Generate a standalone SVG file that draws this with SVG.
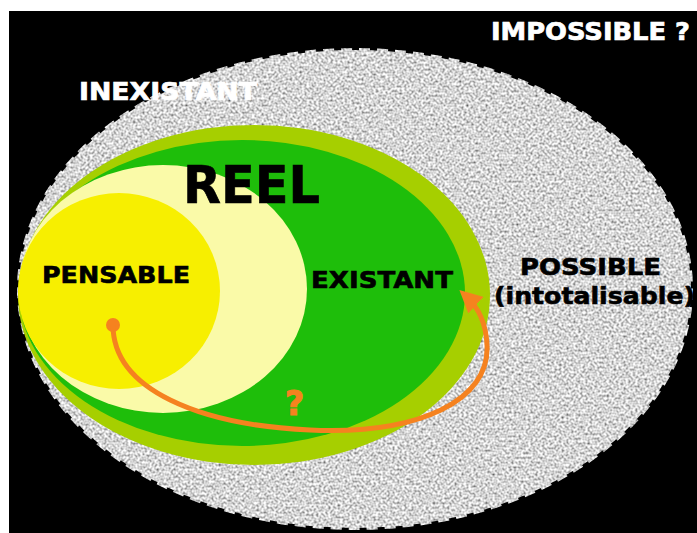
<svg xmlns="http://www.w3.org/2000/svg" width="697" height="533" viewBox="0 0 697 533">
<style>
.t{font-family:"DejaVu Sans","Verdana",sans-serif;font-weight:bold}
.w{fill:#ffffff;stroke:#ffffff;stroke-width:0.7}
.k{fill:#000000;stroke:#000000;stroke-width:0.6}
</style>
<defs>
<filter id="noise" x="-5%" y="-5%" width="110%" height="110%">
<feTurbulence type="fractalNoise" baseFrequency="0.42" numOctaves="1" seed="7" result="t"/>
<feColorMatrix in="t" type="matrix" values="1.6 0 0 0 -0.13  1.6 0 0 0 -0.13  1.6 0 0 0 -0.13  0 0 0 0 1" result="g"/>
<feGaussianBlur in="g" stdDeviation="0.35" result="b"/>
<feComposite in="b" in2="SourceAlpha" operator="in"/>
</filter>
<marker id="arr" viewBox="0 0 10 10" refX="6" refY="5" markerWidth="4.5" markerHeight="4.5" orient="auto" markerUnits="strokeWidth">
<path d="M0,0 L10,5 L0,10 z" fill="#f5821f"/>
</marker>
</defs>
<rect x="0" y="0" width="697" height="533" fill="#ffffff"/>
<rect x="9" y="11" width="688" height="522" fill="#000000"/>
<g id="possible">
<g filter="url(#noise)">
<ellipse cx="355" cy="289" rx="336" ry="239" fill="#000" stroke="#000" stroke-width="4" stroke-dasharray="11 7"/>
</g>
</g>
<g id="reel">
<ellipse cx="254" cy="295" rx="236" ry="170" fill="#a6cf00"/>
</g>
<g id="existant">
<ellipse cx="242" cy="293" rx="223" ry="153" fill="#1ebe0a"/>
</g>
<g id="pensable-zone">
<ellipse cx="163" cy="289" rx="144" ry="124" fill="#fafaa8"/>
</g>
<g id="pensable">
<ellipse cx="119" cy="291" rx="101" ry="98" fill="#f7ef00"/>
</g>
<g id="labels">
<text class="t w" x="79" y="100" font-size="24" textLength="178" lengthAdjust="spacingAndGlyphs">INEXISTANT</text>
<text class="t w" x="491" y="40" font-size="24" textLength="199" lengthAdjust="spacingAndGlyphs">IMPOSSIBLE ?</text>
<text class="t k" x="183" y="203" font-size="52" textLength="137" lengthAdjust="spacingAndGlyphs">REEL</text>
<text class="t k" x="42" y="283" font-size="23" textLength="148" lengthAdjust="spacingAndGlyphs">PENSABLE</text>
<text class="t k" x="311" y="288" font-size="23" textLength="142" lengthAdjust="spacingAndGlyphs">EXISTANT</text>
<text class="t k" x="520" y="275" font-size="23" textLength="141" lengthAdjust="spacingAndGlyphs">POSSIBLE</text>
<text class="t k" x="494" y="304" font-size="23" textLength="201" lengthAdjust="spacingAndGlyphs">(intotalisable)</text>
</g>
<g id="connectors">
<circle cx="113" cy="325" r="7" fill="#f5821f"/>
<path d="M113,325 C113,390 200,425 310,430 C420,435 490,400 487,345 C486,322 478,307 466,296" fill="none" stroke="#f5821f" stroke-width="5" marker-end="url(#arr)"/>
<text class="t" x="285" y="415" font-size="33" fill="#f5821f" stroke="#f5821f" stroke-width="1">?</text>
</g>
</svg>
